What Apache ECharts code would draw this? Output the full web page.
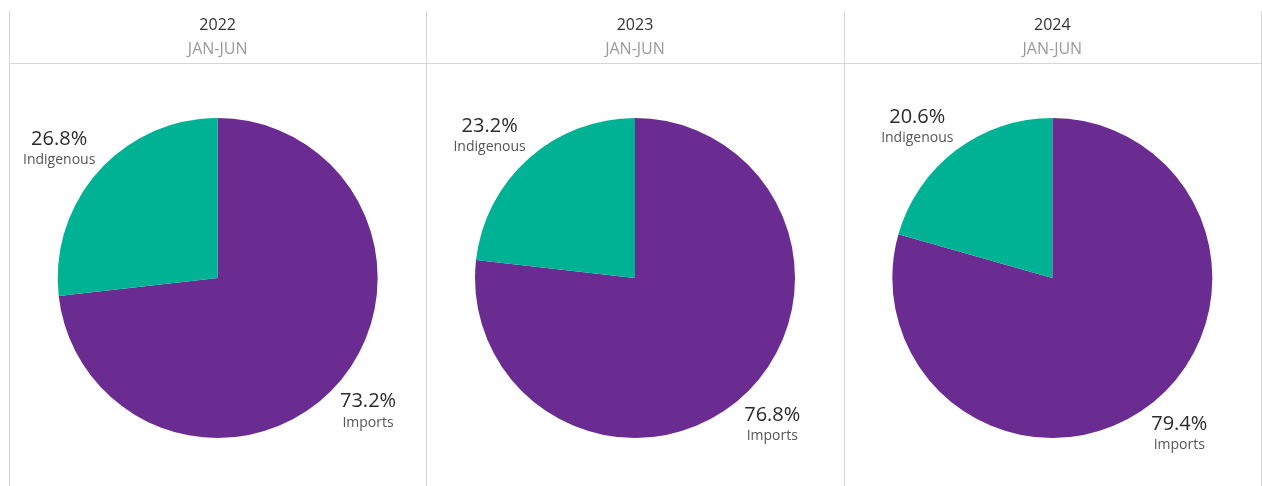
<!DOCTYPE html>
<html>
<head>
<meta charset="utf-8">
<title>Imports vs Indigenous, Jan-Jun</title>
<script src="https://cdn.jsdelivr.net/npm/echarts@6/dist/echarts.min.js"></script>
<style>
  html, body { margin: 0; padding: 0; background: #fff; }
  #chart { width: 1262px; height: 486px; }
</style>
</head>
<body>
<div id="chart"></div>
<script>
// Values
const years = ['2022', '2023', '2024'];
const period = 'JAN-JUN';
const categories = ['Imports', 'Indigenous'];
const imports = [73.2, 76.8, 79.4];
const indigenous = [26.8, 23.2, 20.6];

// Layout
const FONT = '"Open Sans", "Noto Sans", sans-serif';
const frameLeft = 9, frameRight = 1261, frameTop = 11, frameBottom = 486;
const headerLine = 63;
const pieCy = 278, pieR = 160;
const labelGapX = 4, labelGapY = 8.5, labelShiftY = 2;
const colors = { Imports: '#6b2c91', Indigenous: '#00b294' };
const panelW = (frameRight - frameLeft) / years.length;
const panelCx = years.map((_, i) => frameLeft + panelW * (i + 0.5));

// Place each label just outside the slice, at its mid angle,
// pushed outward by half its own box so it never overlaps the pie.
function placeLabel(params) {
  const s = params.seriesIndex;
  const vals = [imports[s], indigenous[s]];
  const total = vals.reduce((a, b) => a + b, 0);
  let before = 0;
  for (let k = 0; k < params.dataIndex; k++) before += vals[k];
  const mid = (before + vals[params.dataIndex] / 2) / total * Math.PI * 2;
  const dx = Math.sin(mid), dy = -Math.cos(mid);
  const ax = panelCx[s] + (pieR + labelGapX) * dx;
  const ay = pieCy + (pieR + labelGapY) * dy;
  const w = params.labelRect.width, h = params.labelRect.height;
  return {
    x: ax + Math.sign(dx) * w / 2,
    y: ay + Math.sign(dy) * h / 2 + labelShiftY,
    align: 'center',
    verticalAlign: 'middle'
  };
}

const series = years.map((y, i) => ({
  type: 'pie',
  name: y,
  center: [panelCx[i], pieCy],
  radius: pieR,
  startAngle: 90,
  clockwise: true,
  silent: true,
  animation: false,
  data: [
    { name: categories[0], value: imports[i], itemStyle: { color: colors.Imports } },
    { name: categories[1], value: indigenous[i], itemStyle: { color: colors.Indigenous } }
  ],
  label: {
    show: true,
    position: 'inside',
    overflow: 'none',
    textBorderWidth: 0,
    formatter: p => '{v|' + p.value.toFixed(1) + '%}\n{n|' + p.name + '}',
    rich: {
      v: { fontFamily: FONT, fontSize: 20, color: '#2b2b2b', lineHeight: 23, align: 'center', textBorderWidth: 0 },
      n: { fontFamily: FONT, fontSize: 14, color: '#555555', lineHeight: 19, align: 'center', textBorderWidth: 0 }
    }
  },
  labelLine: { show: false },
  labelLayout: placeLabel
}));

const lineStyle = { stroke: '#d6d6d6', lineWidth: 1 };
const graphics = [];
// Panel frame: outer edges and dividers
for (let i = 0; i <= years.length; i++) {
  const x = Math.round(frameLeft + panelW * i) + 0.5;
  graphics.push({ type: 'line', shape: { x1: x, y1: frameTop, x2: x, y2: frameBottom }, style: lineStyle, silent: true });
}
graphics.push({ type: 'line', shape: { x1: frameLeft, y1: headerLine + 0.5, x2: frameRight, y2: headerLine + 0.5 }, style: lineStyle, silent: true });
// Column headers
years.forEach((y, i) => {
  graphics.push({ type: 'text', x: panelCx[i], y: 25, style: { text: y, font: '16px ' + FONT, fill: '#333333', align: 'center', verticalAlign: 'middle' }, silent: true });
  graphics.push({ type: 'text', x: panelCx[i], y: 49.5, style: { text: period, font: '16px ' + FONT, fill: '#9a9a9a', align: 'center', verticalAlign: 'middle' }, silent: true });
});

const chart = echarts.init(document.getElementById('chart'), null, { renderer: 'canvas' });
chart.setOption({
  backgroundColor: '#ffffff',
  animation: false,
  graphic: graphics,
  series: series
});
</script>
</body>
</html>
